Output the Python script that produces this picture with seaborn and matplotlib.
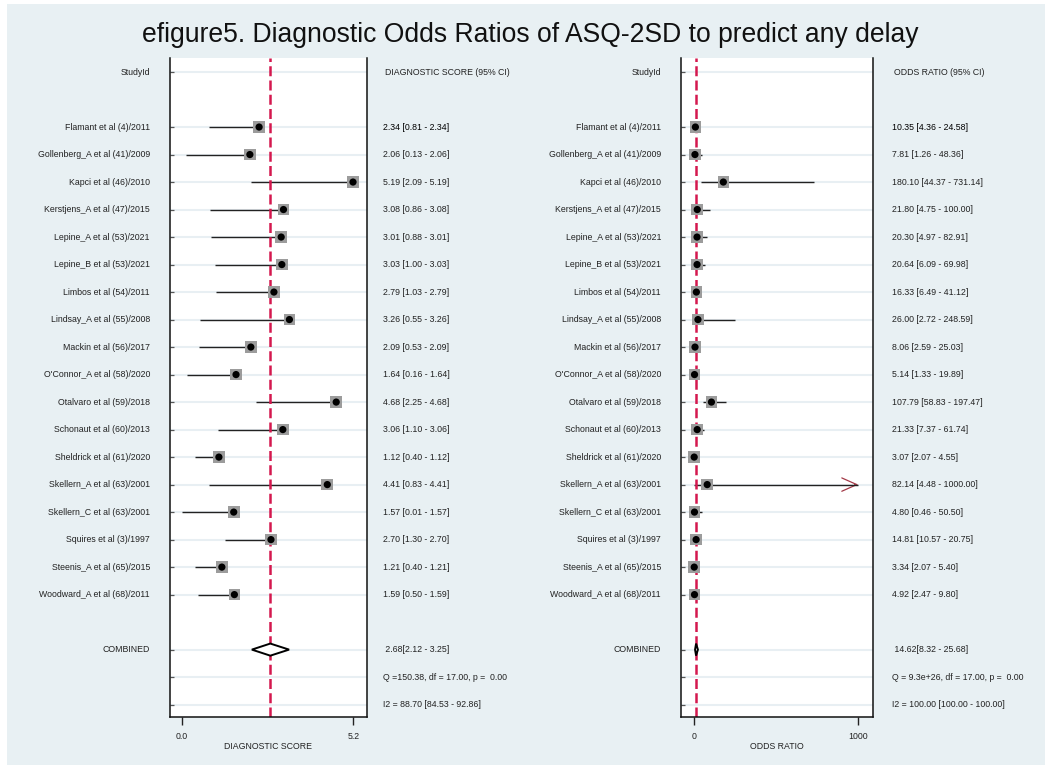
import matplotlib
matplotlib.use("Agg")
import matplotlib.pyplot as plt
import seaborn as sns
import numpy as np
import pandas as pd
from matplotlib.transforms import blended_transform_factory
from matplotlib.patches import Rectangle

# ---------------- data ----------------
title = "efigure5. Diagnostic Odds Ratios of ASQ-2SD to predict any delay"

studies = [
    "Flamant et al (4)/2011", "Gollenberg_A et al (41)/2009", "Kapci et al (46)/2010",
    "Kerstjens_A et al (47)/2015", "Lepine_A et al (53)/2021", "Lepine_B et al (53)/2021",
    "Limbos et al (54)/2011", "Lindsay_A et al (55)/2008", "Mackin et al (56)/2017",
    "O'Connor_A et al (58)/2020", "Otalvaro et al (59)/2018", "Schonaut et al (60)/2013",
    "Sheldrick et al (61)/2020", "Skellern_A et al (63)/2001", "Skellern_C et al (63)/2001",
    "Squires et al (3)/1997", "Steenis_A et al (65)/2015", "Woodward_A et al (68)/2011",
]

ds_est = [2.34, 2.06, 5.19, 3.08, 3.01, 3.03, 2.79, 3.26, 2.09, 1.64, 4.68, 3.06, 1.12, 4.41, 1.57, 2.70, 1.21, 1.59]
ds_lo = [0.81, 0.13, 2.09, 0.86, 0.88, 1.00, 1.03, 0.55, 0.53, 0.16, 2.25, 1.10, 0.40, 0.83, 0.01, 1.30, 0.40, 0.50]
ds_hi = [2.34, 2.06, 5.19, 3.08, 3.01, 3.03, 2.79, 3.26, 2.09, 1.64, 4.68, 3.06, 1.12, 4.41, 1.57, 2.70, 1.21, 1.59]

or_est = [10.35, 7.81, 180.10, 21.80, 20.30, 20.64, 16.33, 26.00, 8.06, 5.14, 107.79, 21.33, 3.07, 82.14, 4.80, 14.81, 3.34, 4.92]
or_lo = [4.36, 1.26, 44.37, 4.75, 4.97, 6.09, 6.49, 2.72, 2.59, 1.33, 58.83, 7.37, 2.07, 4.48, 0.46, 10.57, 2.07, 2.47]
or_hi = [24.58, 48.36, 731.14, 100.00, 82.91, 69.98, 41.12, 248.59, 25.03, 19.89, 197.47, 61.74, 4.55, 1000.00, 50.50, 20.75, 5.40, 9.80]

ds_comb = [2.68, 2.12, 3.25]
or_comb = [14.62, 8.32, 25.68]

ds_q = "Q =150.38, df = 17.00, p =  0.00"
ds_i2 = "I2 = 88.70 [84.53 - 92.86]"
or_q = "Q = 9.3e+26, df = 17.00, p =  0.00"
or_i2 = "I2 = 100.00 [100.00 - 100.00]"

ds_header = "DIAGNOSTIC SCORE (95% CI)"
or_header = "ODDS RATIO (95% CI)"
ds_xlabel = "DIAGNOSTIC SCORE"
or_xlabel = "ODDS RATIO"
ds_ticks = [0.0, 5.2]
ds_ticklabels = ["0.0", "5.2"]
or_ticks = [0, 1000]
or_ticklabels = ["0", "1000"]

# ---------------- style ----------------
sns.set_theme(style="white")
plt.rcParams["font.family"] = ["Liberation Sans", "DejaVu Sans"]

W, H = 1045, 767
fig = plt.figure(figsize=(W / 100, H / 100), dpi=100, facecolor="white")
fig.patches.append(Rectangle((7 / W, 2 / H), 1 - 7 / W, 1 - 6 / H, transform=fig.transFigure,
                             facecolor="#e8f0f3", edgecolor="none", zorder=-10))

fig.text(530 / W, 1 - 42 / H, title, ha="center", va="baseline", fontsize=19.1, color="#111111")

FS = 6.3
TXT = "#222222"
RED = "#d4184e"

n = len(studies)
study_rows = np.arange(2, 2 + n)
comb_row = study_rows[-1] + 2
q_row = comb_row + 1
i2_row = comb_row + 2
grid_rows = np.concatenate([[0], study_rows, [comb_row, q_row, i2_row]])


def fmt(e, l, h):
    return f"{e:.2f} [{l:.2f} - {h:.2f}]"


def panel(ax_rect, est, lo, hi, comb, ticks, ticklabels, xlabel, xlim, header, qtxt, i2txt,
          label_x, stat_x, clip_max=None):
    ax = fig.add_axes(ax_rect)
    ax.set_facecolor("white")
    ax.set_xlim(*xlim)
    ax.set_ylim(23.45, -0.51)

    ax.hlines(grid_rows, xlim[0], xlim[1], color="#e8eff3", lw=1.5, zorder=0)

    span = xlim[1] - xlim[0]
    df = pd.DataFrame({"row": study_rows, "est": est, "lo": lo, "hi": hi})
    for r, l, h in zip(df["row"], df["lo"], df["hi"]):
        ax.plot([l, h], [r, r], color="#222222", lw=1.0, zorder=2, solid_capstyle="butt")
        if clip_max is not None and h >= clip_max:
            # open arrowhead only at the clipped end
            ax.annotate("", xy=(h, r), xytext=(h - span * 0.02, r),
                        arrowprops=dict(arrowstyle="->,head_length=0.9,head_width=0.4",
                                        color="#a33a48", lw=0.9, shrinkA=0, shrinkB=0),
                        zorder=1.5)

    ax.axvline(comb[0], color=RED, lw=1.8, dashes=(4, 1.7), zorder=2.5)

    sns.scatterplot(data=df, x="est", y="row", marker="s", s=70, color="#9c9c9c",
                    edgecolor="none", linewidth=0, ax=ax, zorder=3, legend=False)
    sns.scatterplot(data=df, x="est", y="row", marker="o", s=27, color="black",
                    edgecolor="none", linewidth=0, ax=ax, zorder=4, legend=False)

    hh = 0.22
    ax.fill([comb[1], comb[0], comb[2], comb[0]],
            [comb_row, comb_row - hh, comb_row, comb_row + hh],
            facecolor="white", edgecolor="black", lw=1.4, zorder=4, joinstyle="miter")

    ax.set_xlabel(xlabel, fontsize=FS, color=TXT, labelpad=1.0)
    ax.set_ylabel("")
    ax.set_xticks(ticks)
    ax.set_xticklabels(ticklabels)
    ax.tick_params(axis="x", bottom=True, direction="out", length=6, width=1.0,
                   color="#222222", pad=4.5, labelsize=FS, labelcolor=TXT)
    ax.set_yticks(grid_rows)
    ax.set_yticklabels([])
    ax.tick_params(axis="y", left=True, direction="in", length=3, width=0.9, color="#555555")
    ax.spines["top"].set_visible(False)
    for s in ["left", "right", "bottom"]:
        ax.spines[s].set_visible(True)
        ax.spines[s].set_color("#111111")
        ax.spines[s].set_linewidth(1.1)

    tr = blended_transform_factory(fig.transFigure, ax.transData)
    ax.text(label_x, 0, "StudyId", transform=tr, ha="right", va="center", fontsize=FS, color=TXT)
    ax.text(stat_x + 2 / W, 0, header, transform=tr, ha="left", va="center", fontsize=FS, color=TXT)
    for i, (name, r, e, l, h) in enumerate(zip(studies, study_rows, est, lo, hi)):
        ax.text(label_x, r, name, transform=tr, ha="right", va="center", fontsize=FS, color=TXT)
        ax.text(stat_x, r, fmt(e, l, h), transform=tr, ha="left", va="center", fontsize=FS,
                color="black" if i == 0 else TXT)
    ax.text(label_x, comb_row, "COMBINED", transform=tr, ha="right", va="center", fontsize=FS, color=TXT)
    ax.text(stat_x, comb_row, f" {comb[0]:.2f}[{comb[1]:.2f} - {comb[2]:.2f}]", transform=tr,
            ha="left", va="center", fontsize=FS, color=TXT)
    ax.text(stat_x, q_row, qtxt, transform=tr, ha="left", va="center", fontsize=FS, color=TXT)
    ax.text(stat_x, i2_row, i2txt, transform=tr, ha="left", va="center", fontsize=FS, color=TXT)
    return ax


# axes rectangles in figure fractions (pixel-measured)
left_rect = [170 / W, 50 / H, 197 / W, 659 / H]
right_rect = [681 / W, 50 / H, 191.5 / W, 659 / H]

panel(left_rect, ds_est, ds_lo, ds_hi, ds_comb, ds_ticks, ds_ticklabels, ds_xlabel,
      (-0.364, 5.615), ds_header, ds_q, ds_i2, 150 / W, 383 / W)
panel(right_rect, or_est, or_lo, or_hi, or_comb, or_ticks, or_ticklabels, or_xlabel,
      (-77, 1086), or_header, or_q, or_i2, 661 / W, 892 / W, clip_max=1000)

fig.savefig("out.png", dpi=100, facecolor=fig.get_facecolor())
